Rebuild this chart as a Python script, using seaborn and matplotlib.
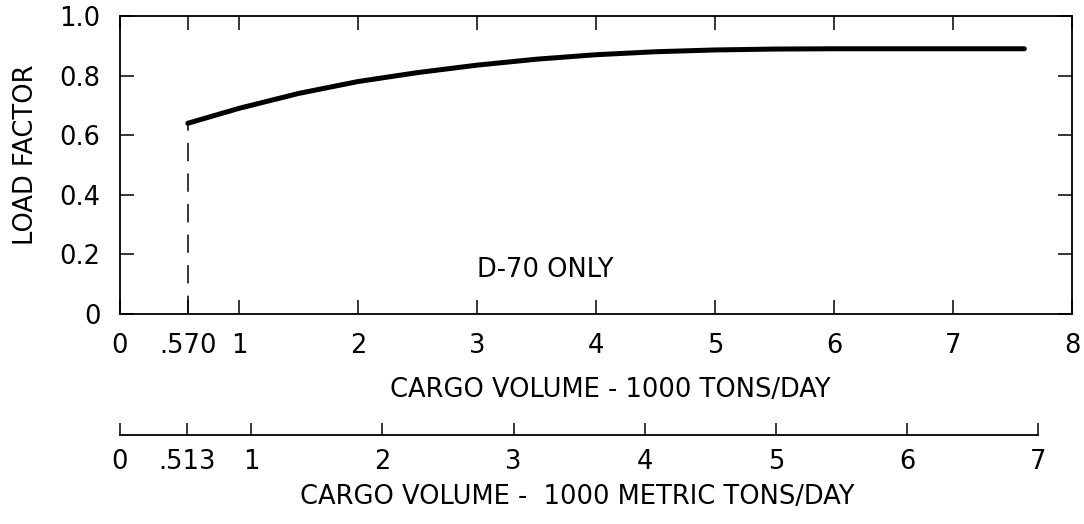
import matplotlib
matplotlib.use("Agg")
import matplotlib.pyplot as plt
import seaborn as sns
import pandas as pd

# Load factor vs. daily cargo volume (thousand short tons/day)
volume = [0.57, 1.0, 1.5, 2.0, 2.5, 3.0, 3.5, 4.0, 4.5, 5.0, 5.5, 6.0, 6.5, 7.0, 7.6]
load_factor = [0.64, 0.69, 0.74, 0.78, 0.81, 0.835, 0.855, 0.87, 0.88, 0.886, 0.889, 0.89, 0.89, 0.89, 0.89]

x_ticks = [0, 0.570, 1, 2, 3, 4, 5, 6, 7, 8]
x_labels = ["0", ".570", "1", "2", "3", "4", "5", "6", "7", "8"]
y_ticks = [0, 0.2, 0.4, 0.6, 0.8, 1.0]
y_labels = ["0", "0.2", "0.4", "0.6", "0.8", "1.0"]

metric_ticks = [0, 0.513, 1, 2, 3, 4, 5, 6, 7]
metric_labels = ["0", ".513", "1", "2", "3", "4", "5", "6", "7"]

TONS_PER_METRIC_TON = 1.1023

sns.set_style("ticks")
plt.rcParams["font.family"] = ["DejaVu Sans"]
plt.rcParams.update({"text.color": "black", "axes.labelcolor": "black",
                     "xtick.color": "black", "ytick.color": "black",
                     "axes.edgecolor": "black"})
FS = 18.5

fig = plt.figure(figsize=(10.84, 5.24), dpi=100)
ax = fig.add_axes([0.1107, 0.4008, 0.8782, 0.5687])

df = pd.DataFrame({"volume": volume, "load": load_factor})
sns.lineplot(data=df, x="volume", y="load", ax=ax, color="black", linewidth=3.6)

# dashed drop line at the minimum volume
ax.plot([volume[0], volume[0]], [0, load_factor[0]], color="black",
        linewidth=1.1, linestyle=(0, (12, 8)))

ax.set_xlim(0, 8)
ax.set_ylim(0, 1.0)
ax.set_xticks(x_ticks)
ax.set_xticklabels(x_labels, fontsize=FS)
ax.set_yticks(y_ticks)
ax.set_yticklabels(y_labels, fontsize=FS)
ax.tick_params(axis="both", direction="in", length=10, width=1.1,
               top=True, right=True)
ax.tick_params(axis="x", pad=14)
ax.tick_params(axis="y", pad=14)
for s in ax.spines.values():
    s.set_linewidth(1.3)

ax.set_xlabel("CARGO VOLUME - 1000 TONS/DAY", fontsize=FS)
ax.xaxis.set_label_coords(0.515, -0.21)
ax.set_ylabel("LOAD FACTOR", fontsize=FS)
ax.yaxis.set_label_coords(-0.085, 0.534)

ax.text(3.57, 0.148, "D-70 ONLY", fontsize=FS, ha="center", va="center")

# metric-ton scale underneath
sec = ax.secondary_xaxis(-0.406, functions=(lambda t: t / TONS_PER_METRIC_TON,
                                             lambda m: m * TONS_PER_METRIC_TON))
sec.set_xticks(metric_ticks)
sec.set_xticklabels(metric_labels, fontsize=FS)
sec.tick_params(axis="x", direction="in", length=9, width=1.1, pad=10)
sec.spines["bottom"].set_bounds(0, 7)
sec.spines["bottom"].set_linewidth(1.3)
ax.text(0.48, -0.614, "CARGO VOLUME -  1000 METRIC TONS/DAY", fontsize=FS,
        ha="center", va="center", transform=ax.transAxes)

fig.savefig("out.png", dpi=100, facecolor="white")
